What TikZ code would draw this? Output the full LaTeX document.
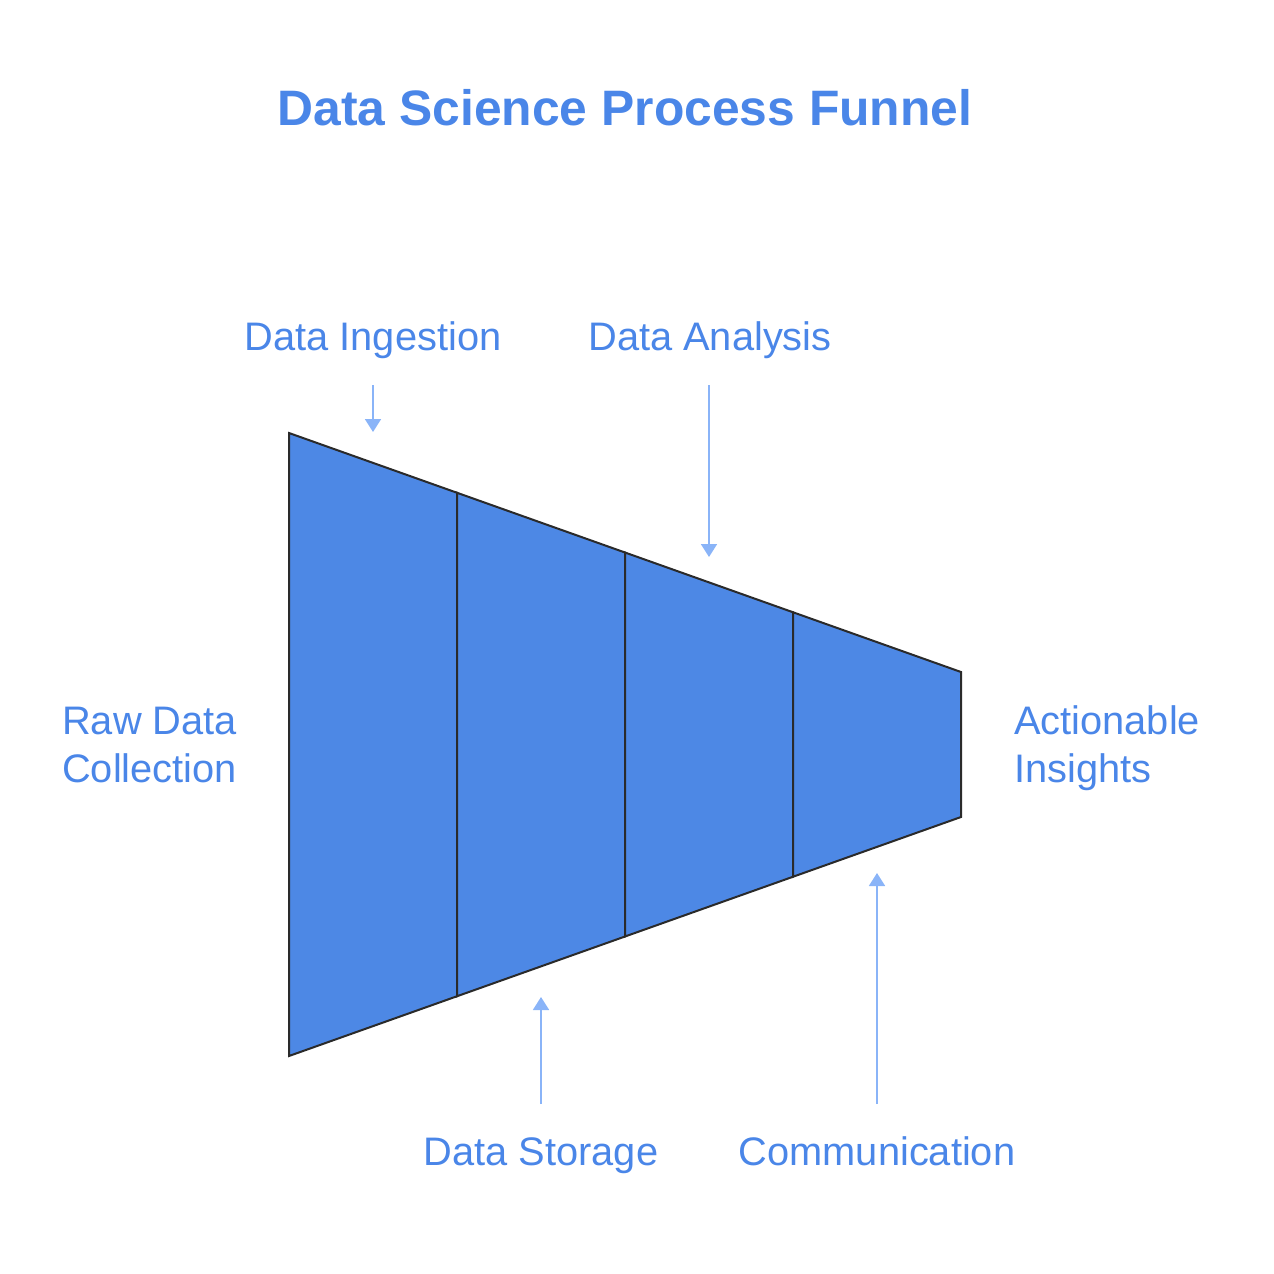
\documentclass[tikz,border=0pt]{standalone}
\usepackage{fontspec}
\setmainfont{Liberation Sans}
\usetikzlibrary{arrows.meta}
\definecolor{funnelblue}{HTML}{4D88E5}
\definecolor{labelblue}{HTML}{4A86E8}
\definecolor{arrowblue}{HTML}{8AB4F8}
\definecolor{edgegray}{HTML}{2A2A2A}
\tikzset{
  stage/.style = {fill = funnelblue, draw = edgegray, line width = 2pt, line join = miter},
  label/.style = {text = labelblue, inner sep = 0pt, font = \fontsize{39.8}{48}\selectfont},
  pointer/.style = {draw = arrowblue, line width = 1.8pt, -{Triangle[width = 16pt, length = 13pt]}}
}
\begin{document}
\begin{tikzpicture}[x = 1pt, y = -1pt]
\useasboundingbox (0, 0) rectangle (1274, 1274);
\node[label, anchor = base, font = \fontsize{49.8}{58}\bfseries] (title) at (625, 125) {Data Science Process Funnel};
% funnel stages
\draw[stage] (289, 433) -- (457, 492.75) -- (457, 996.25) -- (289, 1056) -- cycle;
\draw[stage] (457, 492.75) -- (625, 552.5) -- (625, 936.5) -- (457, 996.25) -- cycle;
\draw[stage] (625, 552.5) -- (793, 612.25) -- (793, 876.75) -- (625, 936.5) -- cycle;
\draw[stage] (793, 612.25) -- (961, 672) -- (961, 817) -- (793, 876.75) -- cycle;
% labels
\node[label, anchor = base west, align = left] (raw) at (62, 782) {Raw Data\\Collection};
\node[label, anchor = base west, align = left] (insights) at (1014, 782) {Actionable\\Insights};
\node[label, anchor = base] (ingestion) at (373, 350) {Data Ingestion};
\node[label, anchor = base] (analysis) at (710, 350) {Data Analysis};
\node[label, anchor = base] (storage) at (541, 1165) {Data Storage};
\node[label, anchor = base] (communication) at (877, 1165) {Communication};
% pointers
\coordinate (ingestion-from) at (373, 385);
\coordinate (ingestion-to) at (373, 432);
\coordinate (analysis-from) at (709, 385);
\coordinate (analysis-to) at (709, 557);
\coordinate (storage-from) at (541, 1104);
\coordinate (storage-to) at (541, 997);
\coordinate (communication-from) at (877, 1104);
\coordinate (communication-to) at (877, 873);
\draw[pointer] (ingestion-from) -- (ingestion-to);
\draw[pointer] (analysis-from) -- (analysis-to);
\draw[pointer] (storage-from) -- (storage-to);
\draw[pointer] (communication-from) -- (communication-to);
\end{tikzpicture}
\end{document}
